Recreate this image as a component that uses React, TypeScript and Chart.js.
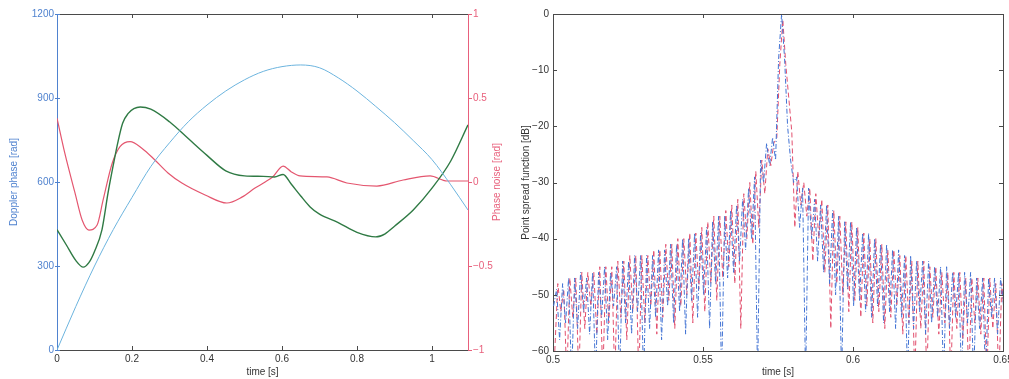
import React, { useEffect, useRef } from "react";
import { Chart, registerables } from "chart.js";

Chart.register(...registerables);
Chart.defaults.font.family = "'Liberation Sans', Arial, Helvetica, sans-serif";

// ---------- Left panel data ----------
const dopplerTime = [0, 0.05, 0.1, 0.15, 0.2, 0.25, 0.3, 0.35, 0.4, 0.45, 0.5, 0.55, 0.6, 0.65, 0.7, 0.75, 0.8, 0.85, 0.9, 0.95, 1.0, 1.05, 1.096];
const dopplerPhase = [0, 155, 300, 430, 545, 655, 740, 815, 875, 925, 965, 995, 1012, 1018, 1008, 972, 925, 870, 812, 748, 680, 590, 500];

const residualTime = [0, 0.025, 0.05, 0.07, 0.085, 0.1, 0.12, 0.136, 0.15, 0.162, 0.175, 0.19, 0.205, 0.222, 0.25, 0.3, 0.35, 0.4, 0.45, 0.5, 0.55, 0.58, 0.603, 0.625, 0.65, 0.675, 0.7, 0.75, 0.8, 0.85, 0.875, 0.9, 0.95, 1.0, 1.05, 1.096];
const residualPhase = [430, 375, 320, 296, 312, 352, 430, 560, 660, 740, 810, 845, 862, 868, 860, 815, 755, 695, 640, 622, 620, 618, 627, 592, 550, 511, 485, 455, 420, 404, 415, 442, 500, 578, 675, 804];

const noiseTime = [0, 0.021, 0.048, 0.067, 0.085, 0.107, 0.123, 0.147, 0.168, 0.195, 0.227, 0.261, 0.296, 0.333, 0.395, 0.453, 0.493, 0.528, 0.555, 0.575, 0.603, 0.625, 0.648, 0.72, 0.773, 0.853, 0.923, 0.995, 1.04, 1.096];
const phaseNoise = [0.38, 0.17, -0.065, -0.226, -0.286, -0.256, -0.107, 0.11, 0.21, 0.24, 0.2, 0.131, 0.054, -0.006, -0.077, -0.125, -0.09, -0.036, 0, 0.03, 0.095, 0.06, 0.036, 0.03, -0.006, -0.024, 0.012, 0.036, 0.006, 0.006];

const leftXTicks = [0, 0.2, 0.4, 0.6, 0.8, 1];
const leftYTicks = [0, 300, 600, 900, 1200];
const leftY2Ticks = [-1, -0.5, 0, 0.5, 1];

// ---------- Right panel data ----------
const psfBlueStart = 0.5002;
const psfRedStart = 0.5006;
const psfStep = 0.001;
const psfBlue = [
  -52, -49, -58, -48, -55, -47, -65, -47, -56, -46,
  -53, -47, -57, -46, -65, -46, -54, -45, -58, -46,
  -52, -45, -65, -44, -55, -44, -57, -43, -53, -43,
  -65, -43, -56, -43, -54, -42, -58, -42, -52, -41,
  -55, -41, -53, -40, -57, -40, -51, -39, -54, -39,
  -50, -38, -56, -37, -48, -36, -65, -36, -47, -35,
  -46, -34, -44, -33, -42, -31, -40, -29, -65, -26,
  -30, -23, -27, -22, -26, -8, 0, -8, -20, -26,
  -30, -29, -38, -31, -65, -31, -40, -33, -44, -34,
  -46, -34, -48, -35, -50, -36, -65, -37, -49, -37,
  -52, -38, -51, -39, -53, -39, -54, -40, -52, -41,
  -55, -41, -53, -42, -56, -42, -54, -43, -65, -43,
  -56, -44, -53, -44, -57, -44, -55, -45, -54, -45,
  -65, -45, -56, -46, -54, -46, -65, -46, -55, -46,
  -65, -47, -56, -47, -65, -47, -54, -47, -57, -47,
  -52,
];
const psfRed = [
  -60, -48, -53, -49, -65, -47, -54, -47, -65, -46,
  -56, -46, -52, -46, -57, -45, -65, -45, -55, -45,
  -65, -44, -54, -44, -58, -43, -53, -43, -65, -43,
  -55, -43, -52, -42, -57, -42, -54, -41, -51, -41,
  -56, -40, -52, -40, -50, -39, -55, -39, -49, -38,
  -53, -37, -48, -36, -51, -36, -47, -35, -45, -34,
  -48, -33, -56, -32, -40, -30, -41, -28, -38, -26,
  -32, -24, -27, -23, -22, -9, -1, -9, -15, -21,
  -38, -28, -34, -30, -36, -31, -44, -32, -40, -33,
  -46, -34, -56, -35, -48, -36, -50, -37, -53, -37,
  -51, -38, -54, -39, -52, -40, -55, -40, -53, -41,
  -56, -42, -54, -42, -52, -43, -57, -43, -55, -44,
  -65, -44, -56, -44, -65, -45, -54, -45, -57, -46,
  -55, -46, -65, -46, -56, -46, -58, -47, -65, -47,
  -55, -47, -57, -47, -65, -47, -56, -48, -65, -48,
  -55,
];
const psfXTicks = [0.5, 0.55, 0.6, 0.65];
const psfYTicks = [0, -10, -20, -30, -40, -50, -60];

// ---------- styles ----------
const AX = "#4a4a4a";
const BLUE_AX = "#4f82cf";
const PINK = "#e8607c";
const CYAN = "#6cb4de";
const GREEN = "#2f7a44";
const RED_LINE = "#e4566f";
const PSF_BLUE = "#4273d4";
const PSF_RED = "#e2506e";

const fmt = (v: number) => {
  const s = String(Math.round(v * 1000) / 1000);
  return s.replace("-", "\u2212");
};
const setTicks = (arr: number[]) => (scale: any) => {
  scale.ticks = arr.map((v) => ({ value: v }));
};
const pairs = (xs: number[], ys: number[]) => xs.map((x, i) => ({ x, y: ys[i] }));
const grid = (start: number, vals: number[]) => vals.map((y, i) => ({ x: start + i * psfStep, y }));

const px = (v: number) => Math.round(v) + 0.5;

const leftBox = {
  id: "leftBox",
  afterDraw(chart: any) {
    const { ctx, chartArea } = chart;
    const { left, right, top, bottom } = chartArea;
    const xs = chart.scales.x;
    const ys = chart.scales.y;
    const y2 = chart.scales.y2;
    ctx.save();
    ctx.lineWidth = 1;
    ctx.strokeStyle = AX;
    ctx.beginPath();
    ctx.moveTo(left, px(top));
    ctx.lineTo(right, px(top));
    leftXTicks.forEach((v) => {
      const x = px(xs.getPixelForValue(v));
      if (v === 0) return;
      ctx.moveTo(x, bottom);
      ctx.lineTo(x, bottom - 4);
      ctx.moveTo(x, top);
      ctx.lineTo(x, top + 4);
    });
    ctx.stroke();
    ctx.strokeStyle = BLUE_AX;
    ctx.beginPath();
    leftYTicks.forEach((v) => {
      const y = px(ys.getPixelForValue(v));
      ctx.moveTo(left - 2, y);
      ctx.lineTo(left + 3, y);
    });
    ctx.stroke();
    ctx.strokeStyle = PINK;
    ctx.beginPath();
    leftY2Ticks.forEach((v) => {
      const y = px(y2.getPixelForValue(v));
      ctx.moveTo(right, y);
      ctx.lineTo(right + 4, y);
    });
    ctx.stroke();
    // right axis title, reading bottom-to-top
    ctx.translate(497, (top + bottom) / 2);
    ctx.rotate(-Math.PI / 2);
    ctx.fillStyle = PINK;
    ctx.font = "10px 'Liberation Sans', Arial, sans-serif";
    ctx.textAlign = "center";
    ctx.textBaseline = "middle";
    ctx.fillText("Phase noise [rad]", 0, 0);
    ctx.restore();
  },
};

const rightBox = {
  id: "rightBox",
  afterDraw(chart: any) {
    const { ctx, chartArea } = chart;
    const { left, right, top, bottom } = chartArea;
    const xs = chart.scales.x;
    const ys = chart.scales.y;
    ctx.save();
    ctx.lineWidth = 1;
    ctx.strokeStyle = AX;
    ctx.beginPath();
    ctx.moveTo(left, px(top));
    ctx.lineTo(right, px(top));
    ctx.moveTo(px(right), top);
    ctx.lineTo(px(right), bottom);
    psfXTicks.forEach((v) => {
      const x = px(xs.getPixelForValue(v));
      ctx.moveTo(x, bottom);
      ctx.lineTo(x, bottom - 4);
      ctx.moveTo(x, top);
      ctx.lineTo(x, top + 4);
    });
    psfYTicks.forEach((v) => {
      const y = px(ys.getPixelForValue(v));
      ctx.moveTo(left, y);
      ctx.lineTo(left + 4, y);
      ctx.moveTo(right, y);
      ctx.lineTo(right - 4, y);
    });
    ctx.stroke();
    ctx.restore();
  },
};

const noGrid = { display: false, drawTicks: false, tickLength: 0 };

function leftConfig(): any {
  return {
    type: "line",
    data: {
      datasets: [
        { label: "Doppler phase", data: pairs(dopplerTime, dopplerPhase), yAxisID: "y", borderColor: CYAN, borderWidth: 1, pointRadius: 0, cubicInterpolationMode: "monotone" },
        { label: "Residual phase", data: pairs(residualTime, residualPhase), yAxisID: "y", borderColor: GREEN, borderWidth: 1.4, pointRadius: 0, cubicInterpolationMode: "monotone" },
        { label: "Phase noise", data: pairs(noiseTime, phaseNoise), yAxisID: "y2", borderColor: RED_LINE, borderWidth: 1.2, pointRadius: 0, cubicInterpolationMode: "monotone" },
      ],
    },
    options: {
      animation: false,
      responsive: false,
      devicePixelRatio: 1,
      layout: { padding: { top: 14, left: 0, right: 0, bottom: 0 } },
      plugins: { legend: { display: false }, tooltip: { enabled: false } },
      scales: {
        x: {
          type: "linear", min: 0, max: 1.096,
          afterBuildTicks: setTicks(leftXTicks),
          afterFit: (s: any) => { s.height = 29; },
          grid: noGrid,
          border: { display: true, color: AX, width: 1 },
          ticks: { color: "#333", font: { size: 10 }, padding: 3, maxRotation: 0, autoSkip: false, callback: fmt },
          title: { display: true, text: "time [s]", color: "#333", font: { size: 10 }, padding: { top: 0, bottom: 1 } },
        },
        y: {
          type: "linear", position: "left", min: 0, max: 1200,
          afterBuildTicks: setTicks(leftYTicks),
          afterFit: (s: any) => { s.width = 57; },
          grid: noGrid,
          border: { display: true, color: BLUE_AX, width: 1 },
          ticks: { color: BLUE_AX, font: { size: 10 }, padding: 3, autoSkip: false, callback: fmt },
          title: { display: true, text: "Doppler phase [rad]", color: BLUE_AX, font: { size: 10 }, padding: { top: 8, bottom: 0 } },
        },
        y2: {
          type: "linear", position: "right", min: -1, max: 1,
          afterBuildTicks: setTicks(leftY2Ticks),
          afterFit: (s: any) => { s.width = 37; },
          grid: noGrid,
          border: { display: true, color: PINK, width: 1 },
          ticks: { color: PINK, font: { size: 10 }, padding: 5, autoSkip: false, callback: fmt },
        },
      },
    },
    plugins: [leftBox],
  };
}

function rightConfig(): any {
  return {
    type: "line",
    data: {
      datasets: [
        { label: "PSF reference", data: grid(psfBlueStart, psfBlue), borderColor: PSF_BLUE, borderWidth: 1, borderDash: [5, 2, 1, 2], pointRadius: 0, tension: 0 },
        { label: "PSF with phase noise", data: grid(psfRedStart, psfRed), borderColor: PSF_RED, borderWidth: 1, borderDash: [5, 3], pointRadius: 0, tension: 0 },
      ],
    },
    options: {
      animation: false,
      responsive: false,
      devicePixelRatio: 1,
      layout: { padding: { top: 14, left: 0, right: 22, bottom: 0 } },
      plugins: { legend: { display: false }, tooltip: { enabled: false } },
      scales: {
        x: {
          type: "linear", min: 0.5, max: 0.65,
          afterBuildTicks: setTicks(psfXTicks),
          afterFit: (s: any) => { s.height = 28; },
          grid: noGrid,
          border: { display: true, color: AX, width: 1 },
          ticks: { color: "#333", font: { size: 10 }, padding: 3, maxRotation: 0, autoSkip: false, callback: fmt },
          title: { display: true, text: "time [s]", color: "#333", font: { size: 10 }, padding: { top: 0, bottom: 1 } },
        },
        y: {
          type: "linear", position: "left", min: -60, max: 0,
          afterBuildTicks: setTicks(psfYTicks),
          afterFit: (s: any) => { s.width = 48; },
          grid: noGrid,
          border: { display: true, color: AX, width: 1 },
          ticks: { color: "#333", font: { size: 10 }, padding: 4, autoSkip: false, callback: fmt },
          title: { display: true, text: "Point spread function [dB]", color: "#333", font: { size: 10 }, padding: { top: 15, bottom: 0 } },
        },
      },
    },
    plugins: [rightBox],
  };
}

export default function App() {
  const leftRef = useRef<HTMLCanvasElement>(null);
  const rightRef = useRef<HTMLCanvasElement>(null);
  useEffect(() => {
    const c1 = new Chart(leftRef.current as HTMLCanvasElement, leftConfig());
    const c2 = new Chart(rightRef.current as HTMLCanvasElement, rightConfig());
    return () => {
      c1.destroy();
      c2.destroy();
    };
  }, []);
  return (
    <div style={{ position: "fixed", left: 0, top: 0, width: 1009, height: 379, overflow: "hidden", background: "#fff" }}>
      <canvas ref={leftRef} width={505} height={379} style={{ position: "absolute", left: 0, top: 0, width: 505, height: 379 }} />
      <canvas ref={rightRef} width={520} height={379} style={{ position: "absolute", left: 505, top: 0, width: 520, height: 379 }} />
    </div>
  );
}
